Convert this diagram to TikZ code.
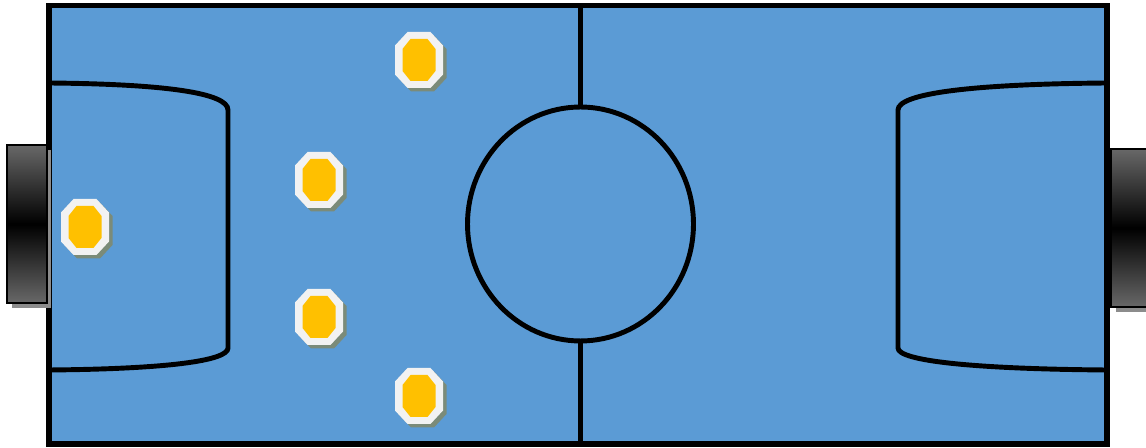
\documentclass[tikz,border=0pt]{standalone}
\usetikzlibrary{shadows,shapes.geometric}
\definecolor{fieldblue}{HTML}{5B9BD5}
\definecolor{playeryellow}{HTML}{FFC000}
\definecolor{playerwhite}{HTML}{F2F2F2}
\definecolor{playershadow}{HTML}{7B8B79}
\definecolor{goalgray}{HTML}{686868}
\definecolor{goalshadow}{HTML}{8C8C8C}
% half width, half height, horizontal cut, vertical cut
\newcommand\octpath[4]{(-#1,-#2+#4)--(-#1+#3,-#2)--(#1-#3,-#2)--(#1,-#2+#4)--(#1,#2-#4)--(#1-#3,#2)--(-#1+#3,#2)--(-#1,#2-#4)--cycle}
\tikzset{
  pitchline/.style={draw=black, line width=2.8pt},
  pitchborder/.style={draw=black, fill=fieldblue, line width=3pt},
  goalbox/.style={draw=black, line width=1.6pt, top color=goalgray, bottom color=goalgray, middle color=black,
    minimum width=0.8cm, minimum height=3.16cm, inner sep=0pt, outer sep=0pt,
    drop shadow={shadow xshift=0.09cm, shadow yshift=-0.1cm, opacity=1, fill=goalshadow}},
  player/.pic={
    \fill[playershadow, shift={(3.5,3.5)}] \octpath{24}{28}{12.5}{13.5};
    \fill[playerwhite] \octpath{24}{28}{12.5}{13.5};
    \fill[playeryellow] \octpath{16.5}{21}{8}{10};
    \coordinate (-c) at (0,0);
  }
}
\begin{document}
\begin{tikzpicture}[x={(0.02cm,0)}, y={(0,-0.02cm)}]
\useasboundingbox (0,0) rectangle (1146,448);
% field
\path[pitchborder] (49,5.8) rectangle (1107,444);
% midline and centre circle
\coordinate (midtop) at (580.5,5.8);
\coordinate (midbot) at (580.5,444);
\node[draw=black, line width=2.8pt, ellipse, minimum width=4.52cm, minimum height=4.68cm, inner sep=0pt] (centre) at (580.5,224) {};
\draw[pitchline] (midtop) -- (centre.north);
\draw[pitchline] (centre.south) -- (midbot);
% left penalty area
\draw[pitchline] (49,83) .. controls (165,84) and (228,93) .. (228,110) -- (228,348) .. controls (228,361) and (165,369) .. (49,370);
% right penalty area
\draw[pitchline] (1107,83) .. controls (975,84) and (898,93) .. (898,110) -- (898,348) .. controls (898,361) and (975,369) .. (1107,370);
% goals
\node[goalbox] (goalL) at (27,224) {};
\node[goalbox] (goalR) at (1131,228) {};
% players
\pic (p1) at (419,60) {player};
\pic (p2) at (319,180) {player};
\pic (p3) at (85,227) {player};
\pic (p4) at (319,317) {player};
\pic (p5) at (419,396) {player};
\end{tikzpicture}
\end{document}
